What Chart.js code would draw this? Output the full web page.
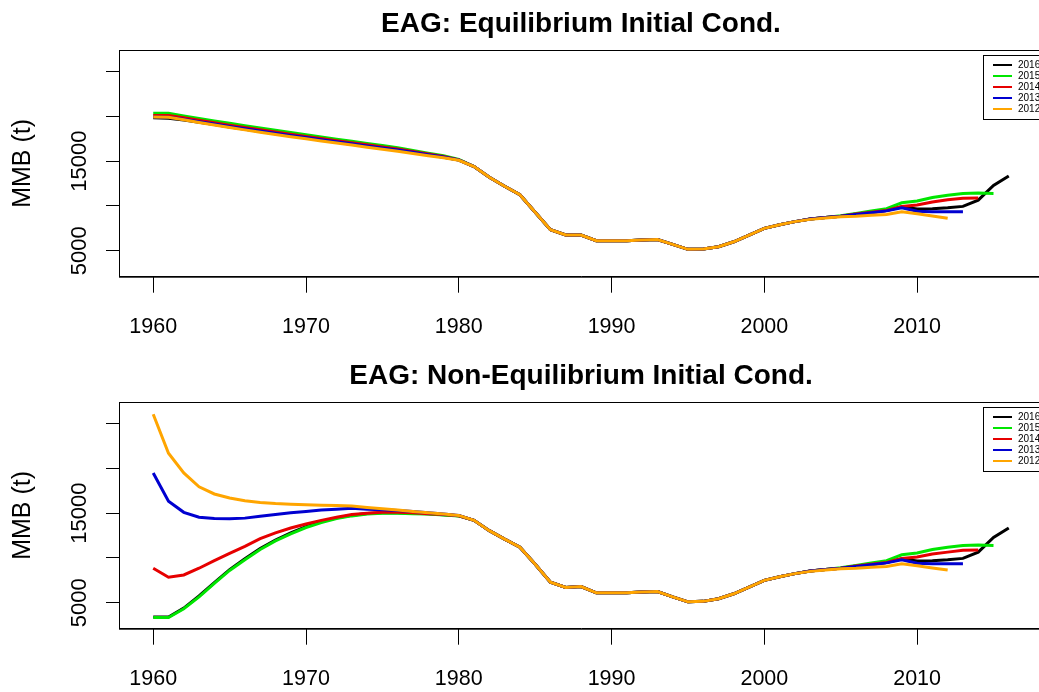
<!DOCTYPE html>
<html>
<head>
<meta charset="utf-8">
<script src="https://cdn.jsdelivr.net/npm/chart.js@4.4.1/dist/chart.umd.min.js"></script>
<style>
  html, body { margin: 0; padding: 0; background: #fff; overflow: hidden; width: 1039px; height: 692px; }
  .panel { position: absolute; left: 0; width: 1045px; height: 346px; }
  #p1 { top: 0; }
  #p2 { top: 352px; }
  canvas { display: block; }
</style>
</head>
<body>
<div class="panel" id="p1"><canvas id="eqChart" width="1045" height="346"></canvas></div>
<div class="panel" id="p2"><canvas id="neqChart" width="1045" height="346"></canvas></div>
<script>
// model runs (legend order) and colours
const runs = ["2016", "2015", "2014", "2013", "2012"];
const runColors = ["#000000", "#00e600", "#e60000", "#0000d0", "#ffa500"];

const years = [1960, 1961, 1962, 1963, 1964, 1965, 1966, 1967, 1968, 1969,
  1970, 1971, 1972, 1973, 1974, 1975, 1976, 1977, 1978, 1979,
  1980, 1981, 1982, 1983, 1984, 1985, 1986, 1987, 1988, 1989,
  1990, 1991, 1992, 1993, 1994, 1995, 1996, 1997, 1998, 1999,
  2000, 2001, 2002, 2003, 2004, 2005, 2006, 2007, 2008, 2009,
  2010, 2011, 2012, 2013, 2014, 2015, 2016];

const xTicks = [1960, 1970, 1980, 1990, 2000, 2010];
const yTicks = [5000, 10000, 15000, 20000, 25000];
const yLabels = [5000, 15000];

// Equilibrium initial conditions (MMB, t)
const eq2016 = [19850, 19800, 19600, 19350, 19090, 18830, 18570, 18320, 18070, 17830,
  17590, 17360, 17130, 16900, 16680, 16450, 16230, 15980, 15720, 15450,
  15130, 14400, 13200, 12200, 11250, 9300, 7350, 6750, 6750, 6120,
  6120, 6120, 6200, 6250, 5700, 5150, 5200, 5450, 6000, 6750,
  7500, 7900, 8250, 8550, 8700, 8850, 9100, 9300, 9500, 9900,
  9650, 9700, 9800, 9950, 10650, 12300, 13350];
const eq2015 = [20350, 20350, 20050, 19770, 19500, 19230, 18970, 18720, 18460, 18200,
  17950, 17700, 17460, 17220, 16990, 16750, 16500, 16200, 15900, 15600,
  15200, 14400, 13200, 12200, 11250, 9300, 7350, 6750, 6750, 6120,
  6120, 6120, 6200, 6250, 5700, 5150, 5200, 5450, 6000, 6750,
  7500, 7900, 8250, 8550, 8700, 8900, 9150, 9450, 9700, 10350,
  10550, 10950, 11200, 11400, 11450, 11400];
const eq2014 = [20100, 20100, 19850, 19570, 19300, 19030, 18770, 18520, 18260, 18010,
  17770, 17530, 17290, 17060, 16830, 16600, 16360, 16080, 15800, 15520,
  15150, 14400, 13200, 12200, 11250, 9300, 7350, 6750, 6750, 6120,
  6120, 6120, 6200, 6250, 5700, 5150, 5200, 5450, 6000, 6750,
  7500, 7900, 8250, 8550, 8700, 8850, 9100, 9300, 9500, 9950,
  10100, 10450, 10700, 10850, 10900];
const eq2013 = [19950, 19900, 19680, 19420, 19150, 18890, 18630, 18380, 18130, 17880,
  17640, 17400, 17170, 16940, 16710, 16480, 16250, 15990, 15730, 15460,
  15130, 14400, 13200, 12200, 11250, 9300, 7350, 6750, 6750, 6120,
  6120, 6120, 6200, 6250, 5700, 5150, 5200, 5450, 6000, 6750,
  7500, 7900, 8250, 8550, 8700, 8850, 9050, 9250, 9450, 9800,
  9400, 9350, 9350, 9350];
const eq2012 = [19950, 19900, 19620, 19330, 19050, 18770, 18500, 18240, 17990, 17740,
  17500, 17260, 17030, 16800, 16570, 16340, 16110, 15850, 15600, 15380,
  15100, 14400, 13200, 12200, 11250, 9300, 7350, 6750, 6750, 6120,
  6120, 6120, 6200, 6250, 5700, 5150, 5200, 5450, 6000, 6750,
  7500, 7900, 8250, 8500, 8650, 8800, 8850, 8950, 9050, 9350,
  9130, 8880, 8620];

// Non-equilibrium initial conditions (MMB, t)
const neq2016 = [3400, 3400, 4400, 5750, 7250, 8700, 9900, 11050, 12000, 12800,
  13500, 14050, 14480, 14780, 14960, 15050, 15050, 15000, 14930, 14830,
  14720, 14200, 13050, 12100, 11200, 9300, 7300, 6700, 6800, 6100,
  6100, 6100, 6200, 6250, 5650, 5100, 5150, 5450, 6000, 6750,
  7500, 7900, 8250, 8550, 8700, 8850, 9100, 9300, 9500, 9900,
  9650, 9700, 9800, 9950, 10650, 12300, 13350];
const neq2015 = [3350, 3350, 4330, 5650, 7150, 8600, 9800, 10950, 11900, 12700,
  13400, 13950, 14400, 14700, 14900, 15000, 15000, 14950, 14900, 14800,
  14700, 14200, 13050, 12100, 11200, 9300, 7300, 6700, 6800, 6100,
  6100, 6100, 6200, 6250, 5650, 5100, 5150, 5450, 6000, 6750,
  7500, 7900, 8250, 8550, 8700, 8900, 9150, 9450, 9700, 10350,
  10550, 10950, 11200, 11400, 11450, 11400];
const neq2014 = [8850, 7850, 8100, 8850, 9700, 10500, 11300, 12150, 12800, 13350,
  13800, 14200, 14550, 14850, 15000, 15100, 15100, 15050, 14950, 14850,
  14720, 14200, 13050, 12100, 11200, 9300, 7300, 6700, 6800, 6100,
  6100, 6100, 6200, 6250, 5650, 5100, 5150, 5450, 6000, 6750,
  7500, 7900, 8250, 8550, 8700, 8850, 9100, 9300, 9500, 9950,
  10100, 10450, 10650, 10850, 10900];
const neq2013 = [19500, 16350, 15100, 14550, 14400, 14380, 14450, 14650, 14850, 15050,
  15200, 15350, 15450, 15550, 15450, 15380, 15300, 15180, 15050, 14900,
  14750, 14200, 13050, 12100, 11200, 9300, 7300, 6700, 6800, 6100,
  6100, 6100, 6200, 6250, 5650, 5100, 5150, 5450, 6000, 6750,
  7500, 7900, 8250, 8550, 8700, 8850, 9050, 9250, 9450, 9800,
  9400, 9350, 9350, 9350];
const neq2012 = [26050, 21700, 19500, 17950, 17150, 16700, 16400, 16200, 16080, 16000,
  15950, 15900, 15850, 15800, 15650, 15500, 15350, 15200, 15050, 14900,
  14750, 14200, 13050, 12100, 11200, 9300, 7300, 6700, 6800, 6100,
  6100, 6100, 6200, 6250, 5650, 5100, 5150, 5450, 6000, 6750,
  7500, 7900, 8250, 8500, 8650, 8800, 8850, 8950, 9050, 9350,
  9130, 8880, 8650];

const FONT = '"Liberation Sans", Arial, Helvetica, sans-serif';
const yTitle = "MMB (t)";

// frame, title, rotated y labels and the small legend box (R base-graphics look)
const basePlot = {
  id: "basePlot",
  afterDraw(chart, args, opts) {
    const { ctx, chartArea: a, scales: { y } } = chart;
    ctx.save();
    ctx.strokeStyle = "#000";
    ctx.lineWidth = 1;
    ctx.strokeRect(Math.round(a.left) + 0.5, Math.round(a.top) + 0.5, a.right - a.left, a.bottom - a.top);

    ctx.fillStyle = "#000";
    ctx.textAlign = "center";
    ctx.textBaseline = "middle";
    ctx.font = "bold 28px " + FONT;
    ctx.fillText(opts.title, (a.left + a.right) / 2, 24);

    ctx.font = "22px " + FONT;
    yLabels.forEach(v => {
      ctx.save();
      ctx.translate(80, y.getPixelForValue(v));
      ctx.rotate(-Math.PI / 2);
      ctx.fillText(String(v), 0, 0);
      ctx.restore();
    });
    ctx.font = "25px " + FONT;
    ctx.save();
    ctx.translate(23, (a.top + a.bottom) / 2);
    ctx.rotate(-Math.PI / 2);
    ctx.fillText(yTitle, 0, 0);
    ctx.restore();

    // legend
    const lx = 983, ly = 55;
    ctx.fillStyle = "#fff";
    ctx.fillRect(lx, ly, 70, 64);
    ctx.strokeRect(lx + 0.5, ly + 0.5, 70, 64);
    ctx.font = "10px " + FONT;
    ctx.textAlign = "left";
    runs.forEach((r, i) => {
      const ry = ly + 10 + i * 11;
      ctx.strokeStyle = runColors[i];
      ctx.lineWidth = 2;
      ctx.beginPath();
      ctx.moveTo(993, ry);
      ctx.lineTo(1012, ry);
      ctx.stroke();
      ctx.fillStyle = "#000";
      ctx.fillText(r, 1018, ry);
    });
    ctx.restore();
  }
};

function makeChart(id, title, series) {
  return new Chart(document.getElementById(id), {
    type: "line",
    data: {
      datasets: runs.map((r, i) => ({
        label: r,
        data: series[i].map((v, j) => ({ x: years[j], y: v })),
        borderColor: runColors[i],
        borderWidth: 3,
        pointRadius: 0,
        fill: false,
        tension: 0,
        order: runs.length - 1 - i
      }))
    },
    options: {
      responsive: false,
      animation: false,
      events: [],
      layout: { padding: { left: 0, right: 2, top: 50, bottom: 0 } },
      plugins: {
        legend: { display: false },
        tooltip: { enabled: false },
        basePlot: { title }
      },
      scales: {
        x: {
          type: "linear",
          min: 1957.76,
          max: 2018.24,
          afterBuildTicks: s => { s.ticks = xTicks.map(v => ({ value: v })); },
          grid: { drawOnChartArea: false, drawTicks: true, tickLength: 16, color: "#000", lineWidth: 1 },
          border: { display: true, color: "#000", width: 1 },
          ticks: { color: "#000", font: { size: 21.5, family: FONT }, padding: 21, maxRotation: 0, autoSkip: false, callback: v => String(v) },
          afterFit: s => { s.height = 69.3; }
        },
        y: {
          type: "linear",
          min: 2095,
          max: 27425,
          afterBuildTicks: s => { s.ticks = yTicks.map(v => ({ value: v })); },
          grid: { drawOnChartArea: false, drawTicks: true, tickLength: 13, color: "#000", lineWidth: 1 },
          border: { display: true, color: "#000", width: 1 },
          ticks: { display: false },
          afterFit: s => { s.width = 119; }
        }
      }
    },
    plugins: [basePlot]
  });
}

makeChart("eqChart", "EAG: Equilibrium Initial Cond.", [eq2016, eq2015, eq2014, eq2013, eq2012]);
makeChart("neqChart", "EAG: Non-Equilibrium Initial Cond.", [neq2016, neq2015, neq2014, neq2013, neq2012]);
</script>
</body>
</html>
